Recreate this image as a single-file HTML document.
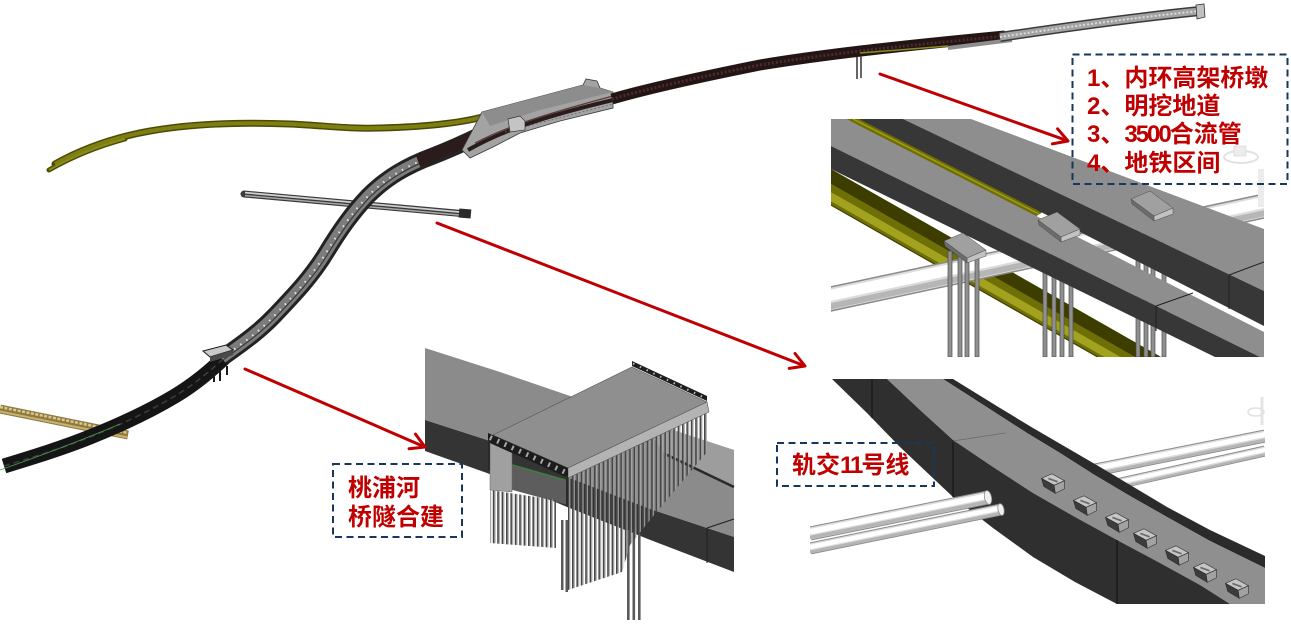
<!DOCTYPE html>
<html><head><meta charset="utf-8">
<style>
html,body{margin:0;padding:0;background:#fff;width:1291px;height:624px;overflow:hidden;}
svg{display:block;}
.t{font-family:"Liberation Sans","Noto Sans CJK SC",sans-serif;font-weight:bold;font-size:24px;fill:#c00000;}
</style></head><body>
<svg width="1291" height="624" viewBox="0 0 1291 624" xmlns="http://www.w3.org/2000/svg">
<defs>
<pattern id="pl" width="4.4" height="20" patternUnits="userSpaceOnUse">
<rect x="0" y="0" width="1.7" height="20" fill="#464646"/>
<rect x="1.7" y="0" width="1.1" height="20" fill="#a9a9a9"/>
</pattern>
<g id="cap" stroke="#4a4a4a" stroke-width="0.5">
<polygon points="0,8 19,0 42,17 23,25" fill="#a0a0a0"/>
<polygon points="23,25 42,17 42,23 23,30" fill="#c2c2c2"/>
<polygon points="0,8 23,25 23,30 1,13" fill="#6c6c6c"/>
</g>
<g id="blk" stroke="#2a2a2a" stroke-width="0.5">
<polygon points="-10,-4 -1,-8 10,-2 1,2" fill="#c6c6c6"/>
<polygon points="-10,-4 1,2 2,9 -8,3" fill="#3c3c3c"/>
<polygon points="1,2 10,-2 10,5 2,9" fill="#a2a2a2"/>
<path d="M-4,-4 L4,-1" stroke="#6a6a6a" stroke-width="1.5"/>
</g>
</defs>
<rect width="1291" height="624" fill="#fff"/>

<!-- ===== Overview ===== -->
<g fill="none">
<path d="M0,409 L128,435" stroke="#8e7a3e" stroke-width="9"/>
<path d="M0,407 L128,433" stroke="#d8c78e" stroke-width="2.5" stroke-dasharray="3 1.5"/>
<path d="M0,411.5 L128,437.5" stroke="#c9b271" stroke-width="2"/>
<path d="M49,170 C70,158 95,147 125,139" stroke="#4b4b06" stroke-width="5" stroke-linecap="round"/>
<path d="M55,164 C80,150 110,138 150,131 C190,124 240,122 290,124 C330,126 350,129 380,128 C420,127 460,124 490,115" stroke="#4b4b06" stroke-width="7" stroke-linecap="round"/>
<path d="M55,164 C80,150 110,138 150,131 C190,124 240,122 290,124 C330,126 350,129 380,128 C420,127 460,124 490,115" stroke="#7e7e12" stroke-width="4"/>
<path d="M49,170 C70,158 95,147 125,139" stroke="#8a8a1a" stroke-width="2"/>
<path d="M244,194 L467,214" stroke="#3a3a3a" stroke-width="7" stroke-linecap="round"/>
<path d="M245,192.6 L466,212.6" stroke="#cfcfcf" stroke-width="1.8"/>
<path d="M245,195.6 L466,215.6" stroke="#a8a8a8" stroke-width="1.5"/>
</g>
<rect x="459" y="209" width="12" height="9" fill="#2a2a2a" transform="rotate(5 465 213)"/>

<g fill="none">
<path d="M4,466 C30,458 60,449 90,437 C120,425 150,411 175,396 C195,384 210,371 224,358" stroke="#151515" stroke-width="15"/>
<path d="M4,466 C30,458 60,449 90,437 C120,425 150,411 175,396 C195,384 210,371 224,358" stroke="#3e3e3e" stroke-width="1.5" stroke-dasharray="6 4"/>
<path d="M0,470 C40,456 80,441 120,424" stroke="#4f9a4f" stroke-width="0.8"/>
<path d="M222,358 C240,345 258,333 275,315 C295,294 312,276 326,253 C340,230 352,213 368,196 C386,178 406,166 433,156 C456,147 475,138 495,128" stroke="#232323" stroke-width="17"/>
<path d="M222,358 C240,345 258,333 275,315 C295,294 312,276 326,253 C340,230 352,213 368,196 C386,178 406,166 433,156 C456,147 475,138 495,128" stroke="#7c7c7c" stroke-width="11"/>
<path d="M222,358 C240,345 258,333 275,315 C295,294 312,276 326,253 C340,230 352,213 368,196 C386,178 406,166 433,156 C456,147 475,138 495,128" stroke="#3a3a3a" stroke-width="1.2" transform="translate(1.5,1.5)"/>
<path d="M222,358 C240,345 258,333 275,315 C295,294 312,276 326,253 C340,230 352,213 368,196 C386,178 406,166 433,156 C456,147 475,138 495,128" stroke="#e8e8e8" stroke-width="2" stroke-dasharray="1.5 6"/>
<path d="M418,161 C445,151 470,139 500,126" stroke="#2b1c1c" stroke-width="13"/>
</g>
<polygon points="203,351 226,345 233,350 210,357" fill="#c9c9c9" stroke="#1a1a1a" stroke-width="1"/>
<polygon points="210,357 233,350 233,355 210,362" fill="#4a4a4a"/>
<path d="M214,372 v10 M220,370 v11 M227,366 v9" stroke="#1a1a1a" stroke-width="2"/>

<polygon points="462,150 482,112 583,85 586,79 597,81 600,88 613,92 613,108 560,121 520,133 495,146 470,158" fill="#a3a3a3" stroke="#3a3a3a" stroke-width="0.8"/>
<polygon points="482,112 583,85 600,88 613,92 540,110 490,126" fill="#8d8d8d"/>
<path d="M468,150 C490,138 520,122 613,100" stroke="#2b1c1c" stroke-width="4" fill="none"/>
<path d="M475,143 C500,130 530,118 613,96" stroke="#5a3a3a" stroke-width="1.2" fill="none"/>
<path d="M505,132 L613,104" stroke="#6a6a6a" stroke-width="0.8" stroke-dasharray="2 2" fill="none"/>
<polygon points="508,119 520,116 525,121 525,130 510,132" fill="#c4c4c4" stroke="#333" stroke-width="0.7"/>

<g fill="none">
<path d="M612,99 C650,88 700,77 760,65 C820,55 890,47 1005,36" stroke="#241515" stroke-width="11"/>
<path d="M612,99 C650,88 700,77 760,65 C820,55 890,47 1005,36" stroke="#4a2c2c" stroke-width="3" stroke-dasharray="2 2"/>
<path d="M948,48 L1012,40" stroke="#8e8e8e" stroke-width="4"/>
<path d="M1000,37 C1060,28 1130,18 1200,11" stroke="#3a3a3a" stroke-width="10"/>
<path d="M1000,37 C1060,28 1130,18 1200,11" stroke="#a3a3a3" stroke-width="7"/>
<path d="M1000,37 C1060,28 1130,18 1200,11" stroke="#dcdcdc" stroke-width="2" stroke-dasharray="2 2"/>
<path d="M860,53 L948,46" stroke="#8a8a20" stroke-width="1.5"/>
<path d="M857,57 V79 M861,56 V78" stroke="#333" stroke-width="1.5"/>
</g>
<polygon points="1196,5 1204,4 1205,17 1197,19" fill="#c0c0c0" stroke="#333" stroke-width="0.8"/>

<!-- ===== Inset 1 ===== -->
<svg x="831" y="119" width="433" height="238" viewBox="0 0 433 238">
<rect width="433" height="238" fill="#fff"/>
<g fill="none">
<path d="M-20,57 L340,262" stroke="#3d3d00" stroke-width="32"/>
<path d="M-23,62 L337,267" stroke="#6f6f08" stroke-width="18"/>
<path d="M-24,64 L336,269" stroke="#a2a21e" stroke-width="8"/>
</g>
<polygon points="15,0 29,0 212,93 204,98" fill="#6e6e02"/>
<path d="M22,0 L208,95" stroke="#9c9c1c" stroke-width="1.5"/>
<g fill="none">
<path d="M-5,181 L440,85.5" stroke="#8a8a8a" stroke-width="25"/>
<path d="M-5,181 L440,85.5" stroke="#dcdcdc" stroke-width="22"/>
<path d="M-3.5,188 L441.5,92.5" stroke="#b6b6b6" stroke-width="6"/>
<path d="M-5.6,177.5 L439.4,82" stroke="#fff" stroke-width="11"/>
</g>
<g fill="#8f8f8f" stroke="#4c4c4c" stroke-width="0.7">
<rect x="117" y="132" width="4" height="106"/>
<rect x="127" y="134" width="4" height="104"/>
<rect x="134" y="136" width="4" height="102"/>
<rect x="144" y="136" width="4" height="102"/>
<rect x="212" y="112" width="4" height="126"/>
<rect x="221" y="114" width="4" height="124"/>
<rect x="229" y="116" width="4" height="122"/>
<rect x="238" y="116" width="4" height="122"/>
<rect x="305" y="92" width="4" height="146"/>
<rect x="313" y="94" width="4" height="144"/>
<rect x="320" y="96" width="4" height="142"/>
<rect x="331" y="96" width="4" height="142"/>
</g>
<polygon points="0,0 15,0 433,213 433,240 0,27" fill="#8e8e8e"/>
<polygon points="0,27 433,240 433,262 0,50" fill="#373737"/>
<polygon points="140,0 433,110 433,172 72,0" fill="#8e8e8e"/>
<polygon points="72,0 433,172 433,207 28,0" fill="#373737"/>
<path d="M398,156 L433,143 M398,156 V190 M325,187 L362,174 M325,187 V212" stroke="#222" stroke-width="1" fill="none"/>
<use href="#cap" transform="translate(113,114)"/>
<use href="#cap" transform="translate(207,93)"/>
<use href="#cap" transform="translate(300,72)"/>
<ellipse cx="410" cy="38" rx="17" ry="6" fill="none" stroke="#e2e2e2" stroke-width="2"/>
<rect x="403" y="27" width="12" height="10" fill="#ececec" stroke="#d0d0d0" stroke-width="0.6"/>
<rect x="427" y="50" width="6" height="38" fill="#ececec"/>
</svg>

<!-- ===== Inset 2 ===== -->
<svg x="810" y="379" width="455" height="225" viewBox="810 379 455 225">
<g fill="none">
<path d="M1060,477 L1265,436" stroke="#8a8a8a" stroke-width="13"/>
<path d="M1060,477 L1265,436" stroke="#dcdcdc" stroke-width="11"/>
<path d="M1061,481 L1265,440" stroke="#b5b5b5" stroke-width="3"/>
<path d="M1060,475.5 L1265,434.5" stroke="#fff" stroke-width="5"/>
<path d="M1085,491 L1265,451" stroke="#8a8a8a" stroke-width="11"/>
<path d="M1085,491 L1265,451" stroke="#dcdcdc" stroke-width="9"/>
<path d="M1086,494.5 L1265,454.5" stroke="#b5b5b5" stroke-width="2.5"/>
<path d="M1085,489.8 L1265,449.8" stroke="#fff" stroke-width="4"/>
</g>
<polygon points="953,379 1000,408 1033,428 1100,467 1167,507 1210,530 1265,556 1265,568 1210,541 1167,517 1130,496 1093,474 1060,453 1027,433 985,406 943,379" fill="#2b2b2b"/>
<polygon points="943,379 985,406 1027,433 1060,453 1093,474 1130,496 1167,517 1210,541 1265,568 1265,604 1230,604 1200,585 1160,563 1117,540 1075,517 1033,493 993,467 953,440 920,410 887,379" fill="#8f8f8f"/>
<polygon points="887,379 920,410 953,440 993,467 1033,493 1075,517 1117,540 1160,563 1200,585 1230,604 1117,604 1075,582 1033,557 993,528 953,497 900,447 867,413 832,379" fill="#2f2f2f"/>
<path d="M953,440 V497 M1117,540 V604 M872,379 V418" stroke="#161616" stroke-width="1.2" fill="none"/>
<path d="M953,441 L1005,433" stroke="#6a6a6a" stroke-width="0.8"/>
<use href="#blk" transform="translate(1053,483) scale(1.15)"/>
<use href="#blk" transform="translate(1085,505) scale(1.15)"/>
<use href="#blk" transform="translate(1117,522) scale(1.15)"/>
<use href="#blk" transform="translate(1145,538) scale(1.15)"/>
<use href="#blk" transform="translate(1177,555) scale(1.15)"/>
<use href="#blk" transform="translate(1205,572) scale(1.15)"/>
<use href="#blk" transform="translate(1237,588) scale(1.15)"/>
<g fill="none">
<path d="M810,548.5 L1001,509.5" stroke="#8a8a8a" stroke-width="12"/>
<path d="M810,548.5 L1001,509.5" stroke="#dcdcdc" stroke-width="10"/>
<path d="M810,552 L1002,513" stroke="#b5b5b5" stroke-width="3"/>
<path d="M810,547 L1001,508" stroke="#fff" stroke-width="4.5"/>
</g>
<ellipse cx="1001" cy="509.5" rx="3" ry="6" transform="rotate(-12 1001 509.5)" fill="#f0f0f0" stroke="#8a8a8a" stroke-width="0.8"/>
<g fill="none">
<path d="M810,533.5 L988,497.5" stroke="#8a8a8a" stroke-width="14"/>
<path d="M810,533.5 L988,497.5" stroke="#dcdcdc" stroke-width="12"/>
<path d="M810,537.5 L989,501.5" stroke="#b5b5b5" stroke-width="3.5"/>
<path d="M810,531.8 L988,495.8" stroke="#fff" stroke-width="5.5"/>
</g>
<ellipse cx="988" cy="497.5" rx="3.5" ry="7" transform="rotate(-12 988 497.5)" fill="#f0f0f0" stroke="#8a8a8a" stroke-width="0.8"/>
<ellipse cx="1256" cy="412" rx="8" ry="4" fill="none" stroke="#e0e0e0" stroke-width="1.5"/>
<path d="M1262,397 V425" stroke="#e4e4e4" stroke-width="3"/>
</svg>

<!-- ===== Inset 3 ===== -->
<svg x="425" y="348" width="310" height="272" viewBox="425 348 310 272">
<polygon points="425,348 500,372 573,397 650,423 734,450 734,537 653,510 567,477 487,440 425,420" fill="#8b8b8b"/>
<polygon points="425,420 487,440 567,477 653,510 734,537 734,572 653,541 567,507 487,473 425,451" fill="#343434"/>
<polygon points="640,419 734,450 734,487 665,454" fill="#9d9d9d"/>
<path d="M665,454 L734,487" stroke="#2a2a2a" stroke-width="2.5"/>
<path d="M707,528 L734,519 M707,528 V563" stroke="#1e1e1e" stroke-width="1"/>
<polygon points="505,462 568,480 568,505 505,488" fill="#5d5d5d"/>
<path d="M505,463 L568,481" stroke="#2e8b2e" stroke-width="1"/>
<polygon points="490,443 512,453 512,492 490,490" fill="#a0a0a0" stroke="#666" stroke-width="0.5"/>
<polygon points="490,490 556,500 556,548 490,543" fill="url(#pl)"/>
<g fill="#5a5a5a">
<rect x="627" y="530" width="2.6" height="90"/>
<rect x="632.5" y="532" width="2.6" height="88"/>
<rect x="638" y="534" width="2.6" height="86"/>
<rect x="561" y="520" width="2.5" height="70"/>
<rect x="565.5" y="520" width="2.5" height="72"/>
</g>
<polygon points="568,478 707,410 707,452 650,520 630,545 622,572 568,590" fill="url(#pl)"/>
<polygon points="632,361 707,396 707,401 632,366" fill="#1e1e1e"/>
<path d="M633,363.5 L706,398.5" stroke="#bdbdbd" stroke-width="2" stroke-dasharray="1.5 6"/>
<polygon points="493,435 632,367 707,402 568,468" fill="#8f8f8f" stroke="#555" stroke-width="0.6"/>
<polygon points="568,468 707,402 709,412 568,478" fill="#b3b3b3" stroke="#555" stroke-width="0.6"/>
<polygon points="488,433 568,468 568,478 488,442" fill="#1c1c1c"/>
<path d="M490,437.5 L566,472.5" stroke="#a8a8a8" stroke-width="5" stroke-dasharray="2 6"/>
<path d="M489,440 V470 M567,476 V505" stroke="#2a2a2a" stroke-width="2"/>
</svg>

<!-- ===== Arrows ===== -->
<g stroke="#c00000" stroke-width="3" fill="none" stroke-linecap="round" stroke-linejoin="round">
<path d="M880,74 L1067,140.6"/>
<path d="M1057.6,128.8 L1068,141 L1052.3,143.9"/>
<path d="M437,223 L804,365.6"/>
<path d="M795,353.5 L805,366 L789.2,368.4"/>
<path d="M245,369 L424,446.6"/>
<path d="M415.5,434.1 L425,447 L409.1,448.8"/>
</g>

<!-- ===== Label boxes ===== -->
<g fill="none" stroke="#17375e" stroke-width="2" stroke-dasharray="7 4.5">
<rect x="1072.5" y="54.5" width="215" height="129.5"/>
<rect x="333" y="464" width="129" height="73"/>
<rect x="777" y="443" width="157" height="43"/>
</g>
<text class="t" x="1087" y="86">1、内环高架桥墩</text>
<text class="t" x="1087" y="114">2、明挖地道</text>
<text class="t" x="1087" y="142">3、<tspan style="letter-spacing:-2px">3500</tspan>合流管</text>
<text class="t" x="1087" y="171">4、地铁区间</text>
<text class="t" x="348" y="496">桃浦河</text>
<text class="t" x="348" y="525">桥隧合建</text>
<text class="t" x="792" y="473">轨交<tspan style="letter-spacing:-2px">11</tspan>号线</text>
</svg>
</body></html>
